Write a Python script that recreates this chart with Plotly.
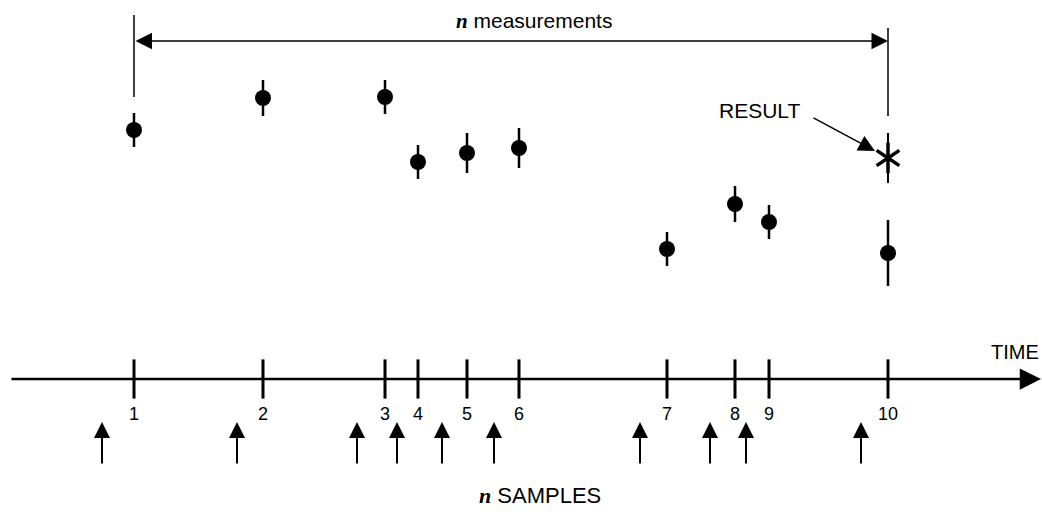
import plotly.graph_objects as go

# ---- data (time units / value units) ----
meas_labels = ["1", "2", "3", "4", "5", "6", "7", "8", "9", "10"]
meas_times = [1.34, 2.63, 3.85, 4.18, 4.67, 5.19, 6.67, 7.35, 7.69, 8.88]
meas_values = [3.87, 4.19, 4.20, 3.55, 3.64, 3.69, 2.68, 3.13, 2.95, 2.64]
meas_errors = [0.17, 0.18, 0.17, 0.17, 0.20, 0.20, 0.17, 0.18, 0.17, 0.33]
result_time = [8.88]
result_value = [3.59]
result_error = [0.25]
sample_times = [1.02, 2.37, 3.57, 3.97, 4.42, 4.94, 6.40, 7.10, 7.46, 8.61]

# ---- layout constants ----
X_RANGE = [0, 10.42]
Y_RANGE = [0, 5.17]
AXIS_Y = 1.38
AXIS_START = 0.10
AXIS_END = 10.41
LABEL_Y = 1.02
SAMPLE_TIP = 0.95
SAMPLE_TAIL = 0.52
SANS = "Liberation Sans, Arial, sans-serif"
NFONT = '<span style="font-family:Liberation Serif"><b><i>n</i></b></span>'

fig = go.Figure()

# measurements
fig.add_trace(go.Scatter(
    x=meas_times, y=meas_values, mode="markers",
    marker=dict(symbol="circle", size=16, color="black"),
    error_y=dict(type="data", array=meas_errors, color="black", thickness=2.5, width=0),
    showlegend=False, hoverinfo="skip"))

# result (six-armed asterisk with its bar)
fig.add_trace(go.Scatter(
    x=result_time, y=result_value, mode="markers",
    marker=dict(symbol="y-up-open", size=19, color="black", line=dict(width=3.5, color="black")),
    error_y=dict(type="data", array=result_error, color="black", thickness=2, width=0),
    showlegend=False, hoverinfo="skip"))
fig.add_trace(go.Scatter(
    x=result_time, y=result_value, mode="markers",
    marker=dict(symbol="y-down-open", size=19, color="black", line=dict(width=3.5, color="black")),
    showlegend=False, hoverinfo="skip"))

# time-axis ticks
fig.add_trace(go.Scatter(
    x=meas_times, y=[AXIS_Y] * len(meas_times), mode="markers",
    marker=dict(symbol="line-ns", size=28, color="black", line=dict(width=3, color="black")),
    showlegend=False, hoverinfo="skip"))

# tick labels
fig.add_trace(go.Scatter(
    x=meas_times, y=[LABEL_Y] * len(meas_times), mode="text", text=meas_labels,
    textposition="middle center", textfont=dict(family=SANS, size=18, color="black"),
    showlegend=False, hoverinfo="skip"))

annotations = []

# time axis with arrowhead
annotations.append(dict(x=AXIS_END, y=AXIS_Y, ax=AXIS_START, ay=AXIS_Y,
                        xref="x", yref="y", axref="x", ayref="y", text="",
                        showarrow=True, arrowhead=2, arrowsize=1.7, arrowwidth=2.5,
                        arrowcolor="black", standoff=0, startstandoff=0))

# sample arrows
for t in sample_times:
    annotations.append(dict(x=t, y=SAMPLE_TIP, ax=t, ay=SAMPLE_TAIL,
                            xref="x", yref="y", axref="x", ayref="y", text="",
                            showarrow=True, arrowhead=2, arrowsize=1.6, arrowwidth=2,
                            arrowcolor="black", standoff=0))

# top bracket double arrow
annotations.append(dict(x=meas_times[-1], y=4.76, ax=meas_times[0], ay=4.76,
                        xref="x", yref="y", axref="x", ayref="y", text="",
                        showarrow=True, arrowhead=2, arrowside="end+start",
                        arrowsize=2.2, arrowwidth=1.5, arrowcolor="black", standoff=0))

# RESULT pointer
annotations.append(dict(x=8.75, y=3.66, ax=8.12, ay=4.00,
                        xref="x", yref="y", axref="x", ayref="y", text="",
                        showarrow=True, arrowhead=2, arrowsize=2.2, arrowwidth=1.5,
                        arrowcolor="black", standoff=0))

# texts
annotations.append(dict(x=5.34, y=4.96, xref="x", yref="y", showarrow=False,
                        text=NFONT + " measurements", font=dict(family=SANS, size=21, color="black")))
annotations.append(dict(x=5.40, y=0.22, xref="x", yref="y", showarrow=False,
                        text=NFONT + " SAMPLES", font=dict(family=SANS, size=22, color="black")))
annotations.append(dict(x=10.41, y=1.65, xref="x", yref="y", showarrow=False, xanchor="right",
                        text="TIME", font=dict(family=SANS, size=20, color="black")))
annotations.append(dict(x=7.59, y=4.07, xref="x", yref="y", showarrow=False,
                        text="RESULT", font=dict(family=SANS, size=21, color="black")))

shapes = [
    dict(type="line", xref="x", yref="y", x0=meas_times[0], x1=meas_times[0], y0=4.20, y1=5.02,
         line=dict(color="black", width=1.5)),
    dict(type="line", xref="x", yref="y", x0=meas_times[-1], x1=meas_times[-1], y0=4.01, y1=4.89,
         line=dict(color="black", width=1.5)),
]

fig.update_layout(
    width=1042, height=517, margin=dict(l=0, r=0, t=0, b=0),
    paper_bgcolor="white", plot_bgcolor="white",
    xaxis=dict(range=X_RANGE, visible=False, fixedrange=True),
    yaxis=dict(range=Y_RANGE, visible=False, fixedrange=True),
    annotations=annotations, shapes=shapes, showlegend=False,
)

fig.write_html("out.html", config={"displayModeBar": False},
               post_script="document.body.style.margin='0';document.body.style.overflow='hidden';")
